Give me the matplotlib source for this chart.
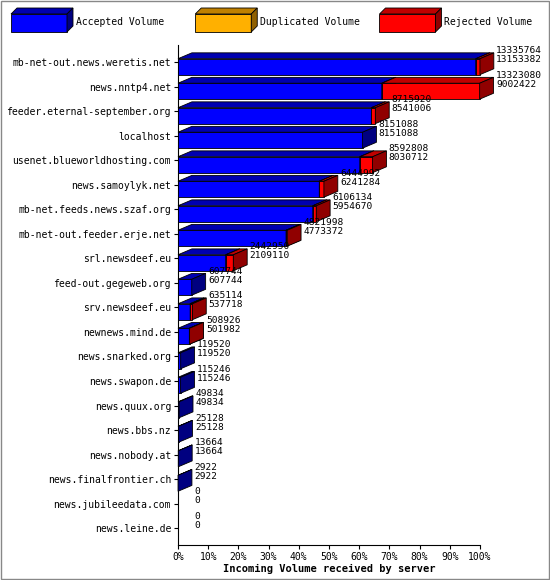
import matplotlib
matplotlib.use("Agg")
import matplotlib.pyplot as plt
from matplotlib.patches import Polygon, Rectangle

servers = ["mb-net-out.news.weretis.net","news.nntp4.net","feeder.eternal-september.org",
 "localhost","usenet.blueworldhosting.com","news.samoylyk.net","mb-net.feeds.news.szaf.org",
 "mb-net-out.feeder.erje.net","srl.newsdeef.eu","feed-out.gegeweb.org","srv.newsdeef.eu",
 "newnews.mind.de","news.snarked.org","news.swapon.de","news.quux.org","news.bbs.nz",
 "news.nobody.at","news.finalfrontier.ch","news.jubileedata.com","news.leine.de"]
total = [13335764,13323080,8715920,8151088,8592808,6444992,6106134,4821998,2442950,607744,
 635114,508926,119520,115246,49834,25128,13664,2922,0,0]
accepted = [13153382,9002422,8541006,8151088,8030712,6241284,5954670,4773372,2109110,607744,
 537718,501982,119520,115246,49834,25128,13664,2922,0,0]
ticks = [0,10,20,30,40,50,60,70,80,90,100]

mono = "DejaVu Sans Mono"
fig = plt.figure(figsize=(5.5,5.8), dpi=100)
fig.patch.set_facecolor("white")
fig.add_artist(Rectangle((0.002,0.002),0.996,0.996,transform=fig.transFigure,fill=False,ec="#888888",lw=1))
ax = fig.add_axes([0.3236,0.060,0.549,0.862])
mx = max(total)
dx, dy = 4.6, 0.24
y0h, y1h = -0.15, 0.5

def box(x0, x1, y, face, top, side, zorder):
    a, b = y + y0h, y + y1h
    for pts, c in [([(x0,b),(x1,b),(x1,a),(x0,a)], face),
                   ([(x0,a),(x1,a),(x1+dx,a-dy),(x0+dx,a-dy)], top),
                   ([(x1,a),(x1,b),(x1+dx,b-dy),(x1+dx,a-dy)], side)]:
        ax.add_patch(Polygon(pts, fc=c, ec="black", lw=0.6, zorder=zorder, clip_on=False))

for i,(t,a) in enumerate(zip(total,accepted)):
    xa = a/mx*100
    xt = t/mx*100
    if t > 0:
        box(0, xa, i, "#0000ff", "#0000b0", "#000080", 3)
        if t > a:
            box(xa, xt, i, "#ff0000", "#c00000", "#900000", 3)
    ax.text(xt+dx+0.8, i-0.3, f"{t}\n{a}", fontsize=6.8, family=mono, va="center",
            ha="left", linespacing=1.0, clip_on=False)

ax.set_xlim(0,100)
ax.set_ylim(19.7,-0.7)
ax.set_yticks(range(len(servers)))
ax.set_yticklabels(servers, family=mono, fontsize=7)
ax.set_xticks(ticks)
ax.set_xticklabels([f"{v}%" for v in ticks], family=mono, fontsize=7)
ax.tick_params(length=3, pad=2)
for s in ["top","right"]:
    ax.spines[s].set_visible(False)
ax.set_xlabel("Incoming Volume received by server", family=mono, fontsize=7.5, fontweight="bold", labelpad=1)

legend = [("Accepted Volume","#0000ff","#0000b0","#000080",0.02),
          ("Duplicated Volume","#ffb000","#c08000","#906000",0.355),
          ("Rejected Volume","#ff0000","#c00000","#900000",0.69)]
W, H = 550, 580
for lab, f, tp, sd, xf in legend:
    x0 = xf*W; ytop = H-8
    w, h, d = 56, 18, 6
    fig.add_artist(Polygon([(x0,ytop-h-d),(x0+w,ytop-h-d),(x0+w,ytop-d),(x0,ytop-d)], transform=None, fc=f, ec="black", lw=0.6))
    fig.add_artist(Polygon([(x0,ytop-d),(x0+w,ytop-d),(x0+w+d,ytop),(x0+d,ytop)], transform=None, fc=tp, ec="black", lw=0.6))
    fig.add_artist(Polygon([(x0+w,ytop-h-d),(x0+w+d,ytop-h),(x0+w+d,ytop),(x0+w,ytop-d)], transform=None, fc=sd, ec="black", lw=0.6))
    fig.text((x0+w+d+3)/W, (ytop-14)/H, lab, family=mono, fontsize=7, va="center")

fig.savefig("out.png", dpi=100)
